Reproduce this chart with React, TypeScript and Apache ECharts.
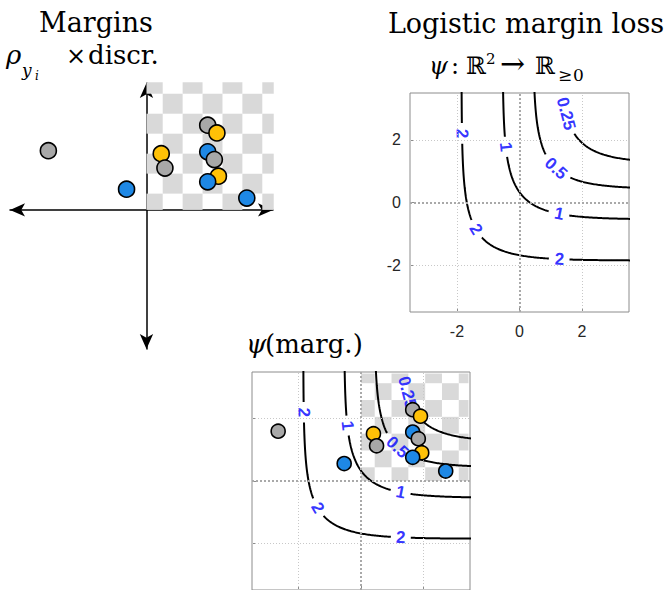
import React, { useEffect, useRef } from "react";
import * as echarts from "echarts";

// ---- data ----
// samples: margin pair (x, y) and class colour, in drawing order
const pointX = [-2.66, -0.54, 0.4, 0.5, 1.66, 1.91, 1.66, 1.84, 1.95, 1.66, 2.72];
const pointY = [1.6, 0.56, 1.52, 1.13, 2.29, 2.08, 1.57, 1.36, 0.91, 0.76, 0.32];
const pointClass = ["grey", "blue", "yellow", "grey", "grey", "yellow", "blue", "grey", "yellow", "blue", "blue"];
const classColors: Record<string, string> = { grey: "#A8A8A8", blue: "#1E88E5", yellow: "#FFC107" };

// contour levels of the logistic margin loss and where their labels sit
const contourLevels = [0.25, 0.5, 1, 2];
const labelLevels = [2, 2, 2, 1, 1, 0.5, 0.25];
const labelX = [-1.9, -1.46, 1.27, -0.56, 1.26, 1.13, 1.45];
const labelY = [2.2, -0.89, -1.87, 1.77, -0.38, 1.06, 2.83];

// axes
const tickValues = [-2, 0, 2];
const lightGridValues = [-2, 2];
const zeroGridValues = [0];

// checkerboard in the positive quadrant (data units)
const checkerStart = -0.1;
const checkerStep = 0.54;
const checkerEnd = 3.45;

// ---- the loss whose level sets are drawn ----
// psi(m) = log(1 + exp(-m1) + exp(-m2))
function contourPath(level: number): number[][] {
  const c = Math.exp(level) - 1;
  const s = -Math.log(c / 2);
  const pts: number[][] = [];
  for (let y = 3.9; y > s; y -= 0.02) pts.push([-Math.log(c - Math.exp(-y)), y]);
  for (let x = s; x <= 3.9; x += 0.02) pts.push([x, -Math.log(c - Math.exp(-x))]);
  return pts;
}

const PX_PER_UNIT = 219 / 7;
const LABEL_FONT = 17;
function labelWidthPx(t: string) {
  let w = 0;
  for (const ch of t) w += ch === "." ? 0.278 * LABEL_FONT : 0.556 * LABEL_FONT;
  return w;
}

type Anchor = { level: number; text: string; x: number; y: number; rot: number; r: number };
const anchors: Anchor[] = [];
const contourSegments: { level: number; pts: number[][] }[] = [];
contourLevels.forEach((L) => {
  const pts = contourPath(L);
  const mine: Anchor[] = [];
  labelLevels.forEach((lv, k) => {
    if (lv !== L) return;
    let best = 0;
    let bd = Infinity;
    pts.forEach((p, i) => {
      const d = (p[0] - labelX[k]) ** 2 + (p[1] - labelY[k]) ** 2;
      if (d < bd) {
        bd = d;
        best = i;
      }
    });
    const a = pts[Math.max(0, best - 2)];
    const b = pts[Math.min(pts.length - 1, best + 2)];
    const rot = (Math.atan2(b[1] - a[1], b[0] - a[0]) * 180) / Math.PI;
    const text = String(L);
    const anchor = { level: L, text, x: pts[best][0], y: pts[best][1], rot, r: (labelWidthPx(text) / 2 + 5) / PX_PER_UNIT };
    mine.push(anchor);
    anchors.push(anchor);
  });
  let cur: number[][] = [];
  pts.forEach((p) => {
    const inside = mine.some((a) => Math.hypot(p[0] - a.x, p[1] - a.y) < a.r);
    if (inside) {
      if (cur.length > 1) contourSegments.push({ level: L, pts: cur });
      cur = [];
    } else cur.push(p);
  });
  if (cur.length > 1) contourSegments.push({ level: L, pts: cur });
});

const checkerCells: number[][] = [];
for (let i = 0; checkerStart + i * checkerStep < checkerEnd; i++) {
  for (let j = 0; checkerStart + j * checkerStep < checkerEnd; j++) {
    if ((i + j) % 2 !== 0) continue;
    const x0 = Math.max(0, checkerStart + i * checkerStep);
    const x1 = Math.min(checkerEnd, checkerStart + (i + 1) * checkerStep);
    const y0 = Math.max(0, checkerStart + j * checkerStep);
    const y1 = Math.min(checkerEnd, checkerStart + (j + 1) * checkerStep);
    if (x1 > x0 && y1 > y0) checkerCells.push([x0, y0, x1, y1]);
  }
}

function pointsData() {
  return pointX.map((x, i) => ({ value: [x, pointY[i]], itemStyle: { color: classColors[pointClass[i]] } }));
}

function checkerSeries(ax: number) {
  return {
    type: "custom",
    xAxisIndex: ax,
    yAxisIndex: ax,
    z: 1,
    silent: true,
    encode: { x: [0, 2], y: [1, 3] },
    data: checkerCells,
    renderItem: (_p: any, api: any) => {
      const p0 = api.coord([api.value(0), api.value(1)]);
      const p1 = api.coord([api.value(2), api.value(3)]);
      return {
        type: "rect",
        shape: { x: p0[0], y: p1[1], width: p1[0] - p0[0], height: p0[1] - p1[1] },
        style: { fill: "#D9D9D9" },
      };
    },
  };
}

function gridLineSeries(ax: number) {
  const light = { color: "#C8C8C8", width: 1, type: [1, 2] };
  const zero = { color: "#A9A9A9", width: 2, type: [2, 2] };
  return {
    type: "line",
    xAxisIndex: ax,
    yAxisIndex: ax,
    data: [],
    z: 2,
    silent: true,
    markLine: {
      silent: true,
      symbol: ["none", "none"],
      label: { show: false },
      animation: false,
      data: [
        ...lightGridValues.map((v) => ({ xAxis: v, lineStyle: light })),
        ...lightGridValues.map((v) => ({ yAxis: v, lineStyle: light })),
        ...zeroGridValues.map((v) => ({ xAxis: v, lineStyle: zero })),
        ...zeroGridValues.map((v) => ({ yAxis: v, lineStyle: zero })),
      ],
    },
  };
}

function contourSeriesFor(ax: number) {
  const s: any[] = contourSegments.map((seg) => ({
    type: "line",
    xAxisIndex: ax,
    yAxisIndex: ax,
    data: seg.pts,
    showSymbol: false,
    symbol: "none",
    silent: true,
    z: 3,
    lineStyle: { color: "#000", width: 2 },
  }));
  s.push({
    type: "scatter",
    xAxisIndex: ax,
    yAxisIndex: ax,
    z: 4,
    silent: true,
    symbolSize: 1,
    itemStyle: { color: "rgba(0,0,0,0)" },
    data: anchors.map((a) => ({
      value: [a.x, a.y],
      label: { show: true, formatter: a.text, rotate: a.rot },
    })),
    label: {
      show: true,
      position: "inside",
      color: "#0000FF",
      fontWeight: "bold",
      fontSize: LABEL_FONT,
      fontFamily: "Liberation Sans",
    },
  });
  return s;
}

function pointSeries(ax: number, size: number) {
  return {
    type: "scatter",
    xAxisIndex: ax,
    yAxisIndex: ax,
    z: 5,
    silent: true,
    symbolSize: size,
    itemStyle: { borderColor: "#000", borderWidth: 1.6, opacity: 1 },
    data: pointsData(),
  };
}

function boxAxis(ax: number, dim: "x" | "y", labels: boolean) {
  return {
    gridIndex: ax,
    type: "value",
    min: -3.5,
    max: 3.5,
    axisLine: { show: false, onZero: false },
    axisTick: { show: true, inside: true, length: 4, customValues: tickValues, lineStyle: { color: "#8C8C8C" } },
    axisLabel: {
      show: labels,
      customValues: tickValues,
      margin: dim === "x" ? 11 : 9,
      fontSize: 16,
      fontFamily: "Liberation Sans",
      color: "#262626",
    },
    splitLine: { show: false },
  };
}

const SERIF = "DejaVu Serif";
function txt(text: string, x: number, baseline: number, size: number, italic = false, align = "left") {
  return {
    type: "text",
    x,
    y: baseline - 0.346 * size,
    z: 100,
    silent: true,
    style: {
      text,
      fill: "#000",
      fontSize: size,
      fontFamily: SERIF,
      fontStyle: italic ? "italic" : "normal",
      textAlign: align,
      textVerticalAlign: "middle",
    },
  };
}

export default function App() {
  const ref = useRef<HTMLDivElement>(null);
  useEffect(() => {
    if (!ref.current) return;
    const chart = echarts.init(ref.current, null, { renderer: "svg" });
    const arrowAxis = (min: number, max: number) => ({
      gridIndex: 0,
      type: "value",
      min,
      max,
      axisLine: {
        show: true,
        onZero: true,
        symbol: ["arrow", "arrow"],
        symbolSize: [10, 15],
        lineStyle: { color: "#000", width: 1.5 },
      },
      axisTick: { show: false },
      axisLabel: { show: false },
      splitLine: { show: false },
    });
    chart.setOption({
      animation: false,
      backgroundColor: "#ffffff",
      grid: [
        { left: 10, top: 83, width: 263, height: 266 },
        { left: 410, top: 93, width: 219, height: 219, show: true, borderColor: "#8C8C8C", borderWidth: 1, backgroundColor: "transparent" },
        { left: 252, top: 372, width: 218, height: 219, show: true, borderColor: "#8C8C8C", borderWidth: 1, backgroundColor: "transparent" },
      ],
      xAxis: [arrowAxis(-3.7, 3.43), boxAxis(1, "x", true), boxAxis(2, "x", false)],
      yAxis: [arrowAxis(-3.76, 3.43), boxAxis(1, "y", true), boxAxis(2, "y", false)],
      series: [
        checkerSeries(0),
        pointSeries(0, 16),
        gridLineSeries(1),
        ...contourSeriesFor(1),
        checkerSeries(2),
        gridLineSeries(2),
        ...contourSeriesFor(2),
        pointSeries(2, 14),
      ],
      graphic: [
        txt("Margins", 96, 32, 27, false, "center"),
        txt("ρ", 6, 64, 26, true),
        txt("y", 22, 76, 17, true),
        txt("i", 35, 80, 12, true),
        txt("×", 66, 64, 24),
        txt("discr.", 88, 64, 26),
        txt("Logistic margin loss", 526, 33, 27, false, "center"),
        txt("ψ", 429, 74, 24, true),
        txt(":", 451, 74, 24),
        txt("ℝ", 466, 74, 24),
        txt("2", 486, 64, 15),
        txt("→", 500, 74, 30),
        txt("ℝ", 535, 74, 24),
        txt("≥", 558, 81, 17),
        txt("0", 573, 81, 17),
        txt("ψ", 246, 353, 26, true),
        txt("(marg.)", 265, 353, 26),
      ],
    });
    return () => chart.dispose();
  }, []);
  return <div ref={ref} style={{ position: "absolute", left: 0, top: 0, width: 669, height: 590 }} />;
}
